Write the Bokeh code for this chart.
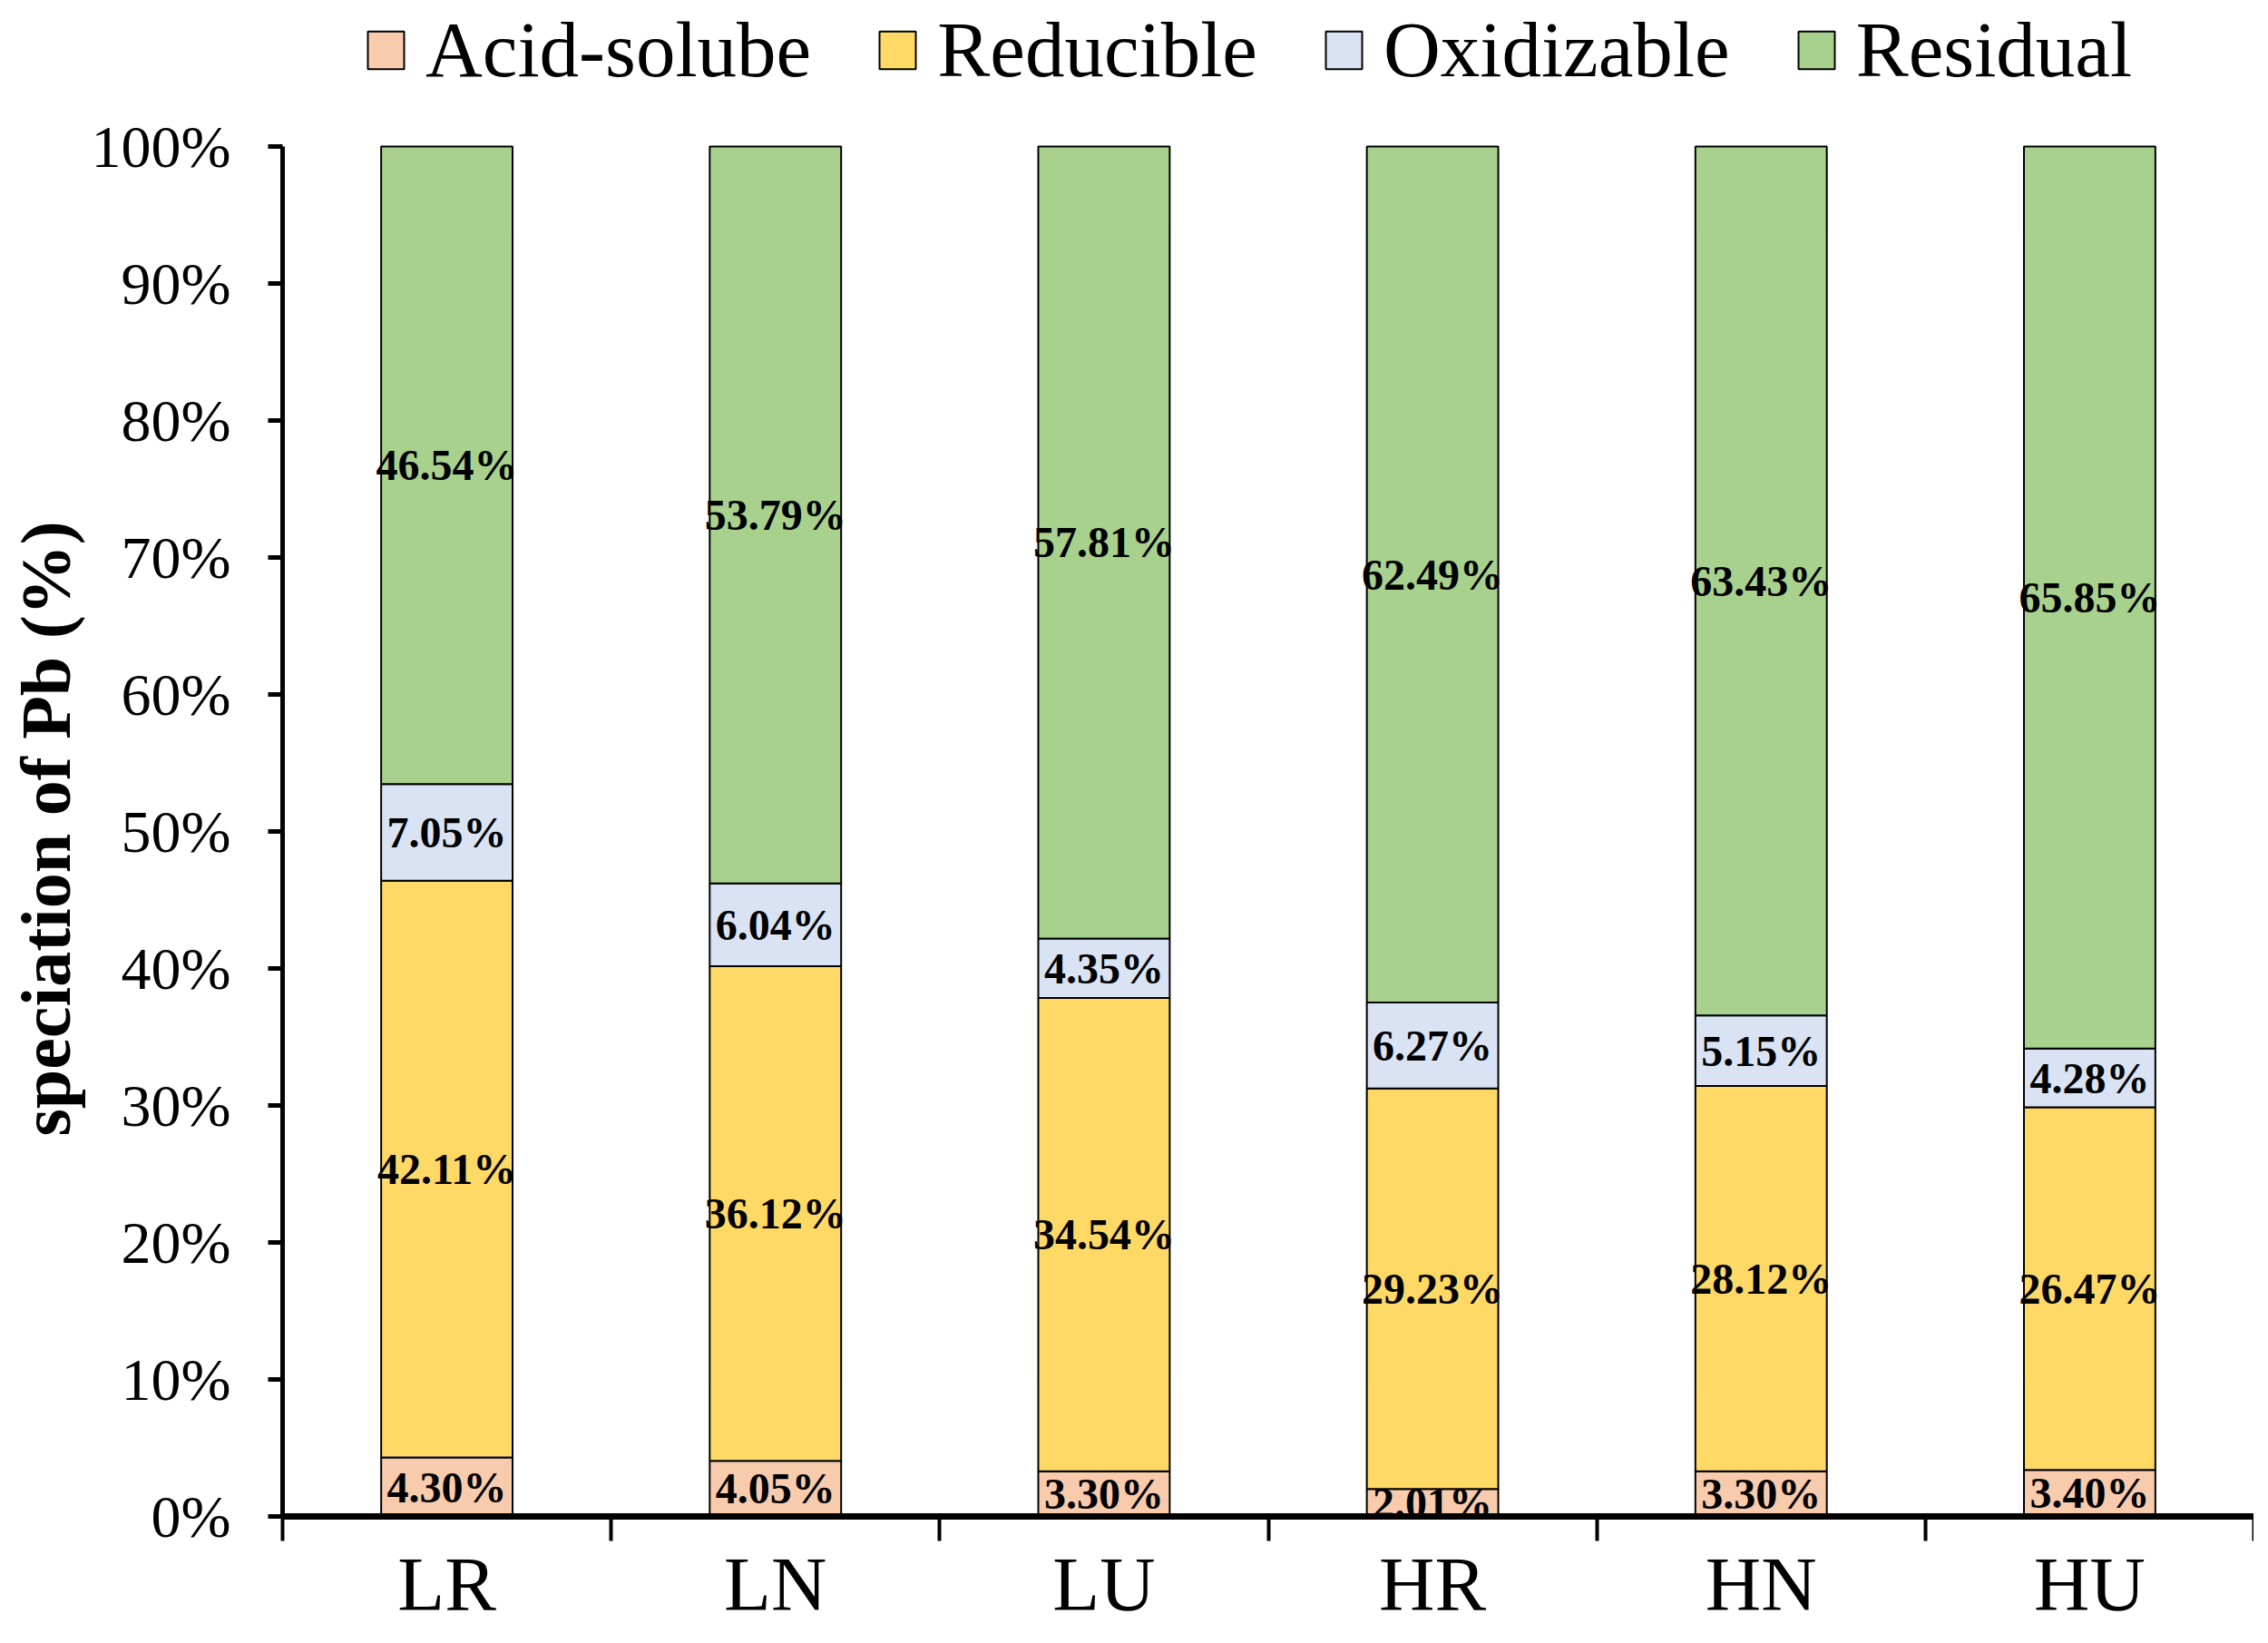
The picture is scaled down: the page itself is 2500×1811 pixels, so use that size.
import numpy as np
from bokeh.plotting import figure
from bokeh.models import ColumnDataSource, Range1d, FixedTicker, Legend, LegendItem, Title
from bokeh.core.properties import value
from bokeh.embed import file_html
from bokeh.resources import INLINE

# ---- data ----
categories = ["LR", "LN", "LU", "HR", "HN", "HU"]
fractions = ["Acid-solube", "Reducible", "Oxidizable", "Residual"]
acid_soluble = [4.30, 4.05, 3.30, 2.01, 3.30, 3.40]
reducible = [42.11, 36.12, 34.54, 29.23, 28.12, 26.47]
oxidizable = [7.05, 6.04, 4.35, 6.27, 5.15, 4.28]
residual = [46.54, 53.79, 57.81, 62.49, 63.43, 65.85]
y_ticks = [0, 10, 20, 30, 40, 50, 60, 70, 80, 90, 100]
y_tick_labels = ["0%", "10%", "20%", "30%", "40%", "50%", "60%", "70%", "80%", "90%", "100%"]
colors = ["#F8CBAD", "#FFD966", "#DAE3F3", "#A9D18E"]

SERIF = "Liberation Serif"

# ---- layout geometry (pixels) ----
FIG_W, FIG_H = 2484, 1795
BORDER_LEFT, BORDER_RIGHT, BORDER_BOTTOM = 306, 0, 124
TOP_OF_100 = 161                      # pixel row of the 100% line; legend lives above it
FRAME_H = FIG_H - BORDER_BOTTOM
Y_TOP = 100 * FRAME_H / (FRAME_H - TOP_OF_100)
LEGEND_H = 105
LEGEND_LOC = (89, FRAME_H - LEGEND_H)
YLABEL_START = 1252                   # pixel row where the y-axis title starts (reads upward)
YLABEL_OFFSET = FRAME_H - YLABEL_START

series = [acid_soluble, reducible, oxidizable, residual]
x_pos = [i + 0.5 for i in range(len(categories))]
boundaries = list(range(len(categories) + 1))

src = ColumnDataSource(data=dict(x=x_pos, **{f: v for f, v in zip(fractions, series)}))

lx, ly, lt = [], [], []
bottom = np.zeros(len(categories))
for vals in series:
    v = np.array(vals)
    mid = bottom + v / 2
    for i in range(len(categories)):
        lx.append(x_pos[i])
        ly.append(float(mid[i]))
        lt.append(f"{vals[i]:.2f}%")
    bottom = bottom + v
lab_src = ColumnDataSource(data=dict(x=lx, y=ly, t=lt))

p = figure(width=FIG_W, height=FIG_H, title=None,
           x_range=Range1d(0, len(categories)), y_range=Range1d(0, Y_TOP),
           output_backend="svg", toolbar_location=None,
           min_border_left=BORDER_LEFT, min_border_right=BORDER_RIGHT,
           min_border_top=0, min_border_bottom=BORDER_BOTTOM)
p.background_fill_color = "white"
p.border_fill_color = "white"
p.outline_line_color = None
p.grid.visible = False

renderers = p.vbar_stack(fractions, x="x", width=0.4, fill_color=colors,
                         line_color="black", line_width=2, source=src)

p.text(x="x", y="y", text="t", source=lab_src,
       text_font=value(SERIF), text_font_style="bold", text_font_size="48px",
       text_align="center", text_baseline="middle", text_color="black")

xa = p.xaxis[0]
xa.ticker = FixedTicker(ticks=x_pos, minor_ticks=boundaries)
xa.major_label_overrides = {x: c for x, c in zip(x_pos, categories)}
xa.major_tick_out = 0
xa.major_tick_in = 0
xa.minor_tick_out = 27
xa.minor_tick_in = 0
xa.minor_tick_line_width = 4
xa.minor_tick_line_color = "black"
xa.axis_line_width = 7
xa.axis_line_color = "black"
xa.major_label_text_font = SERIF
xa.major_label_text_font_size = "85px"
xa.major_label_text_color = "black"
xa.major_label_standoff = 0

ya = p.yaxis[0]
ya.bounds = (0, 100)
ya.ticker = FixedTicker(ticks=y_ticks, minor_ticks=[])
ya.major_label_overrides = {t: l for t, l in zip(y_ticks, y_tick_labels)}
ya.major_tick_out = 16
ya.major_tick_in = 0
ya.major_tick_line_width = 5
ya.major_tick_line_color = "black"
ya.minor_tick_out = 0
ya.minor_tick_in = 0
ya.axis_line_width = 5
ya.axis_line_color = "black"
ya.major_label_text_font = SERIF
ya.major_label_text_font_size = "66px"
ya.major_label_text_color = "black"
ya.major_label_standoff = 41

p.add_layout(Title(text="speciation of Pb (%)", align="left", offset=YLABEL_OFFSET,
                   text_font=SERIF, text_font_size="78px", text_font_style="bold",
                   text_color="black", standoff=8), "left")

items = [LegendItem(label=f, renderers=[r]) for f, r in zip(fractions, renderers)]
legend = Legend(items=items, orientation="horizontal", location=LEGEND_LOC,
                nrows=1, ncols=len(fractions),
                label_text_font=SERIF, label_text_font_size="87px", label_text_color="black",
                glyph_width=50, glyph_height=52, label_standoff=19, spacing=70,
                padding=0, margin=0, border_line_color=None, background_fill_alpha=0)
p.add_layout(legend, "center")

open("out.html", "w").write(file_html(p, INLINE))
